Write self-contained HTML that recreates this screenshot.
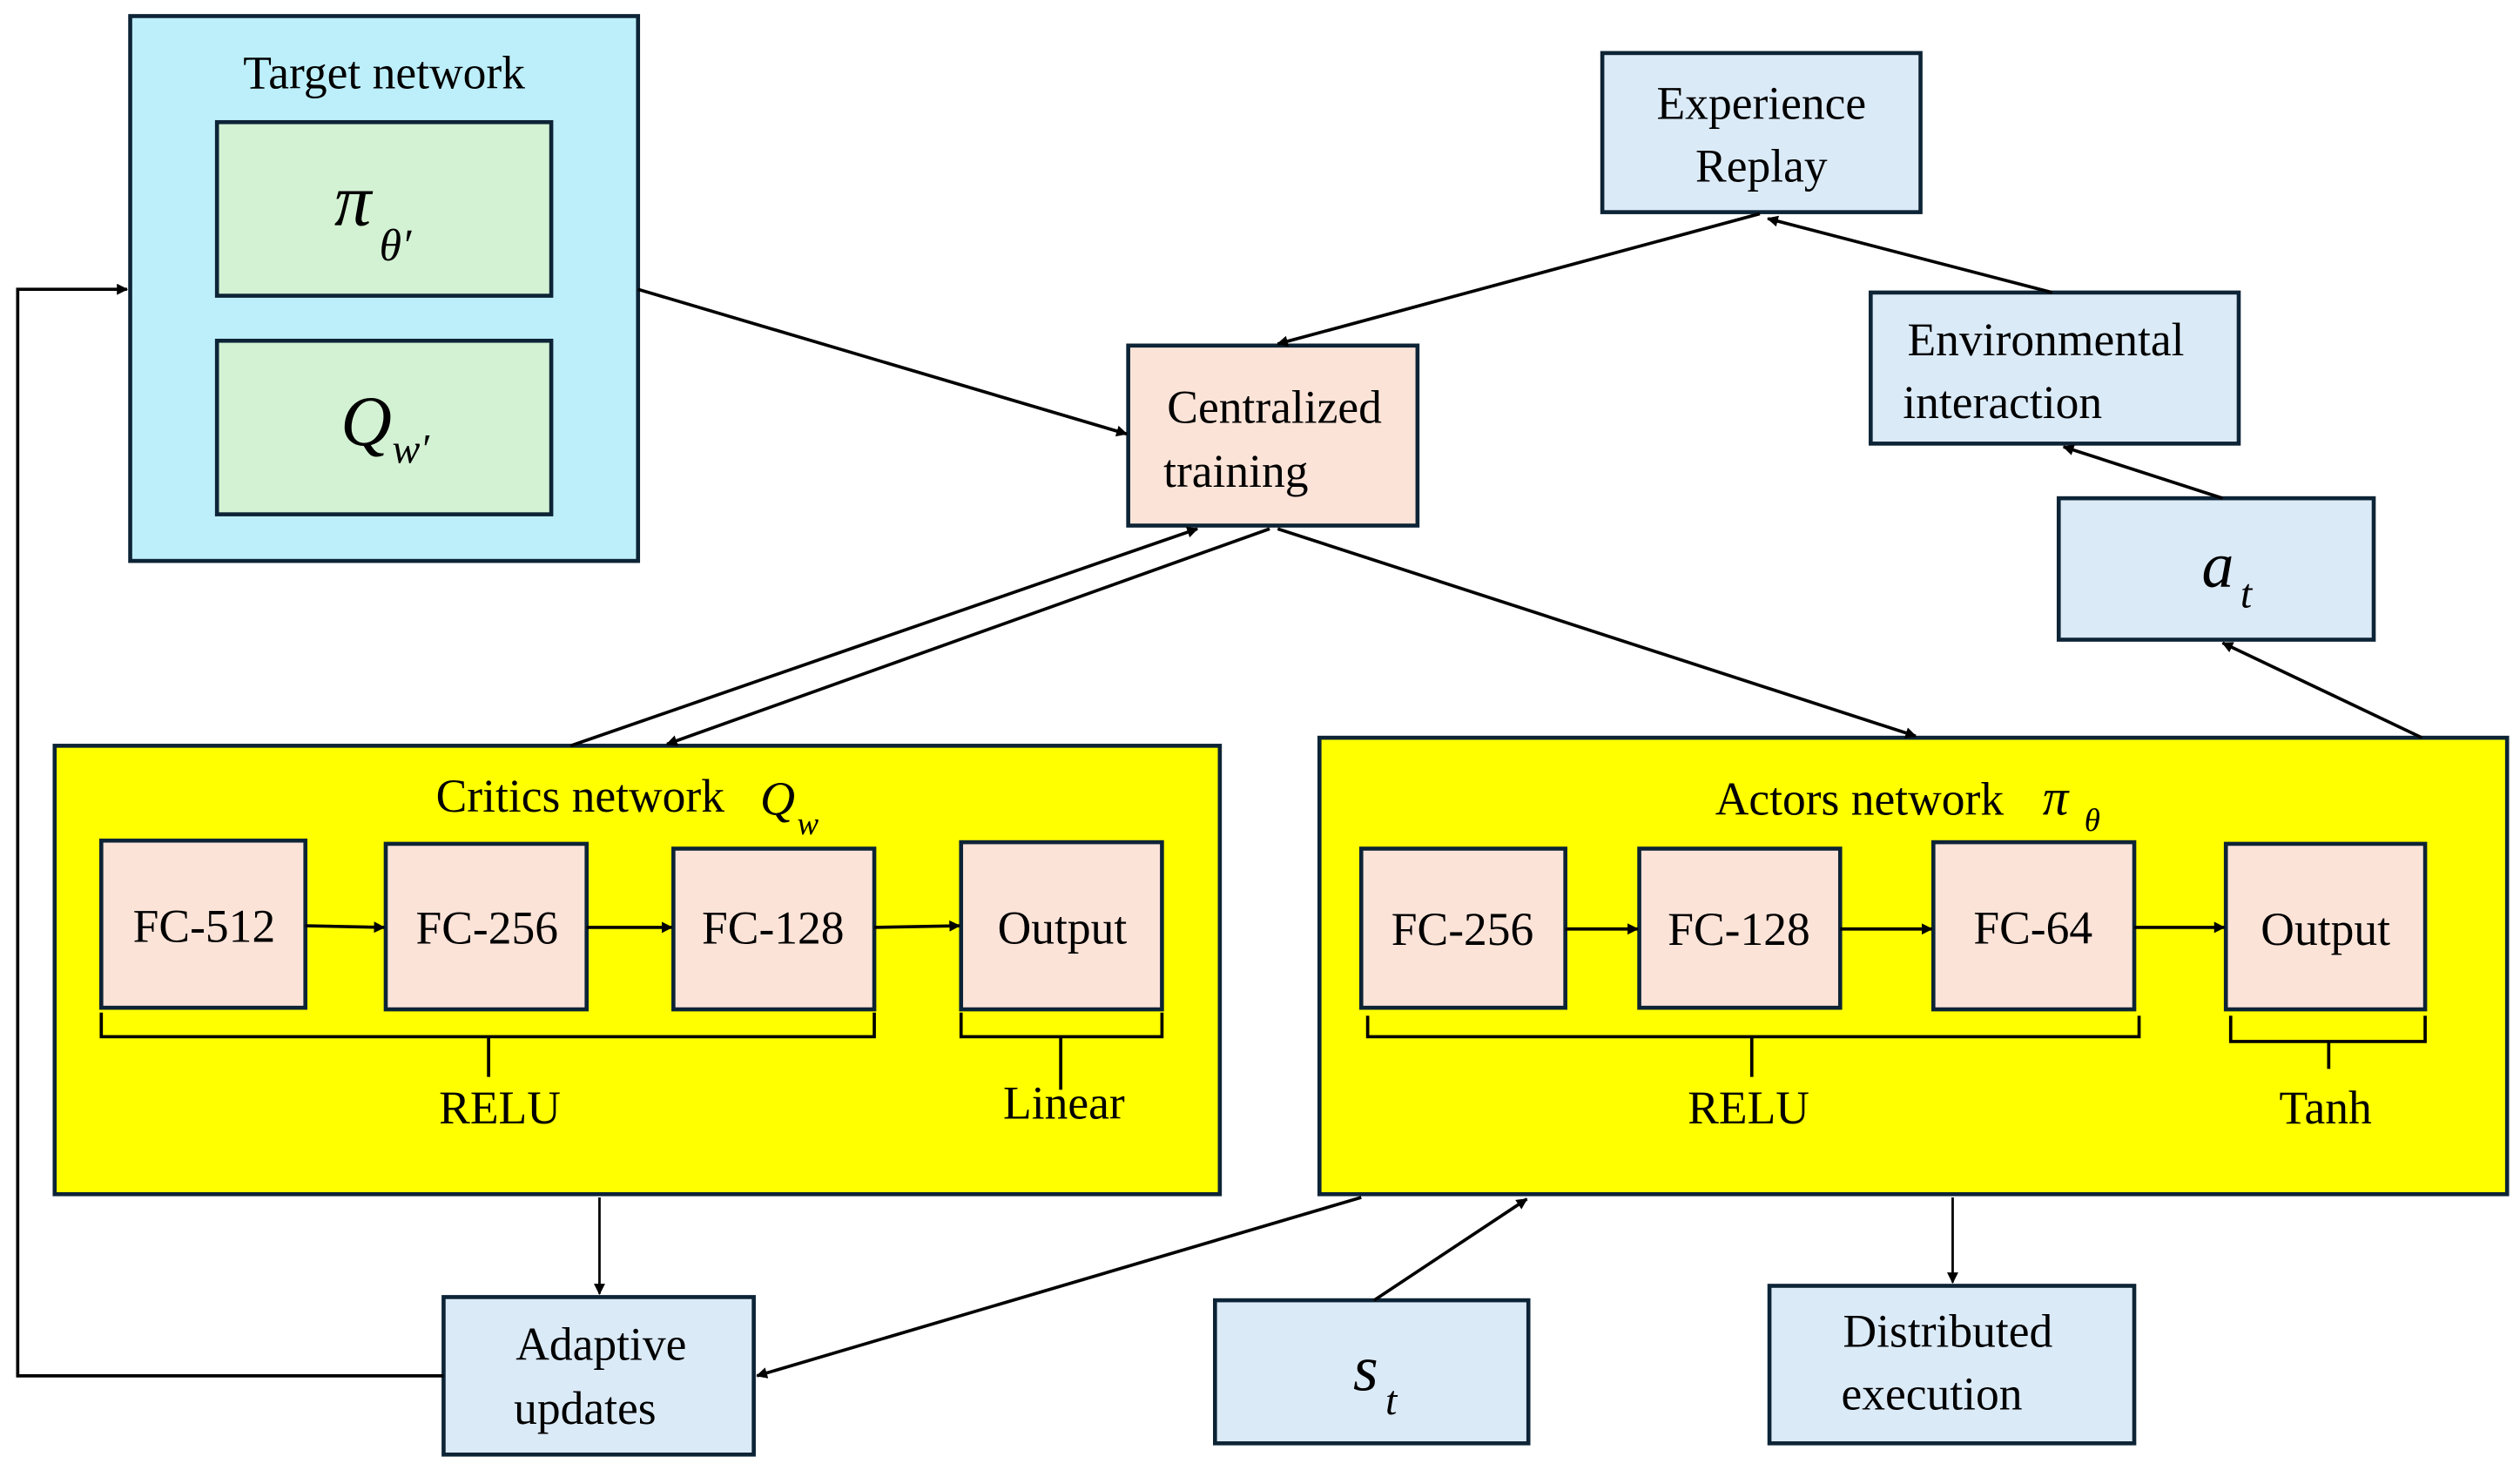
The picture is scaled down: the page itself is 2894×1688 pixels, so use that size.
<!DOCTYPE html>
<html><head><style>html,body{margin:0;padding:0;background:#fff}svg{display:block}</style></head>
<body>
<svg xmlns="http://www.w3.org/2000/svg" width="2894" height="1688" viewBox="0 0 1568 914.6" font-family="Liberation Serif, serif">
<defs>
<marker id="a" viewBox="0 0 10 10" refX="9" refY="5" markerWidth="7" markerHeight="7" markerUnits="userSpaceOnUse" orient="auto"><path d="M0,0 L10,5 L0,10 z" fill="#000"/></marker>
</defs>
<g stroke="#0d2436" stroke-width="2.5">
<rect x="81" y="10" width="316" height="339" fill="#bdeffa"/>
<rect x="135" y="76" width="208" height="108" fill="#d3f2d3"/>
<rect x="135" y="212" width="208" height="108" fill="#d3f2d3"/>
<rect x="997" y="33" width="198" height="99" fill="#dbeaf7"/>
<rect x="702" y="215" width="180" height="112" fill="#fce3d8"/>
<rect x="1164" y="182" width="229" height="94" fill="#dbeaf7"/>
<rect x="1281" y="310" width="196" height="88" fill="#dbeaf7"/>
<rect x="34" y="464" width="725" height="279" fill="#ffff00"/>
<rect x="821" y="459" width="739" height="284" fill="#ffff00"/>
<rect x="63" y="523" width="127" height="104" fill="#fce3d8"/>
<rect x="240" y="525" width="125" height="103" fill="#fce3d8"/>
<rect x="419" y="528" width="125" height="100" fill="#fce3d8"/>
<rect x="598" y="524" width="125" height="104" fill="#fce3d8"/>
<rect x="847" y="528" width="127" height="99" fill="#fce3d8"/>
<rect x="1020" y="528" width="125" height="99" fill="#fce3d8"/>
<rect x="1203" y="524" width="125" height="104" fill="#fce3d8"/>
<rect x="1385" y="525" width="124" height="103" fill="#fce3d8"/>
<rect x="276" y="807" width="193" height="98" fill="#dbeaf7"/>
<rect x="756" y="809" width="195" height="89" fill="#dbeaf7"/>
<rect x="1101" y="800" width="227" height="98" fill="#dbeaf7"/>
</g>
<g stroke="#000" stroke-width="2" fill="none">
<path d="M276,856 H11 V180 H79" marker-end="url(#a)"/>
<path d="M397,180 L701,270" marker-end="url(#a)"/>
<path d="M1095,133 L795,214" marker-end="url(#a)"/>
<path d="M1277,182 L1100,136" marker-end="url(#a)"/>
<path d="M1383,310 L1284,278" marker-end="url(#a)"/>
<path d="M1507,459 L1383,400" marker-end="url(#a)"/>
<path d="M355,464 L745,329" marker-end="url(#a)"/>
<path d="M790,329 L415,463" marker-end="url(#a)"/>
<path d="M795,329 L1192,458" marker-end="url(#a)"/>
<path d="M373,745 V805" stroke-width="1.5" marker-end="url(#a)"/>
<path d="M847,745 L471,856" marker-end="url(#a)"/>
<path d="M855,809 L950,746" marker-end="url(#a)"/>
<path d="M1215,745 V798" stroke-width="1.5" marker-end="url(#a)"/>
<path d="M190,576 L239,577" marker-end="url(#a)"/>
<path d="M365,577 L418,577" marker-end="url(#a)"/>
<path d="M544,577 L597,576" marker-end="url(#a)"/>
<path d="M974,578 L1019,578" marker-end="url(#a)"/>
<path d="M1145,578 L1202,578" marker-end="url(#a)"/>
<path d="M1328,577 L1384,577" marker-end="url(#a)"/>
<path d="M63,630 V645 H544 V630 M304,645 V670"/>
<path d="M598,630 V645 H723 V630 M660,645 V678"/>
<path d="M851,632 V645 H1331 V632 M1090,645 V670"/>
<path d="M1388,632 V648 H1509 V632 M1449,648 V665"/>
</g>
<g font-size="29" fill="#000" text-anchor="middle">
<text x="239" y="55">Target network</text>
<text x="1096" y="74">Experience</text>
<text x="1096" y="113">Replay</text>
<text x="793" y="263">Centralized</text>
<text x="769" y="303">training</text>
<text x="1273" y="221">Environmental</text>
<text x="1246" y="260">interaction</text>
<text x="361" y="505">Critics network</text>
<text x="1157" y="507">Actors network</text>
<text x="127" y="586">FC-512</text>
<text x="303" y="587">FC-256</text>
<text x="481" y="587">FC-128</text>
<text x="661" y="587">Output</text>
<text x="910" y="588">FC-256</text>
<text x="1082" y="588">FC-128</text>
<text x="1265" y="587">FC-64</text>
<text x="1447" y="588">Output</text>
<text x="311" y="699">RELU</text>
<text x="662" y="696">Linear</text>
<text x="1088" y="699">RELU</text>
<text x="1447" y="699">Tanh</text>
<text x="374" y="846">Adaptive</text>
<text x="364" y="886">updates</text>
<text x="1212" y="838">Distributed</text>
<text x="1202" y="877">execution</text>
</g>
<g font-style="italic" fill="#000">
<text x="208" y="140" font-size="46">π</text><text x="236" y="162" font-size="28">θ′</text>
<text x="212" y="277" font-size="44">Q</text><text x="244" y="288" font-size="26">w′</text>
<text x="1370" y="365" font-size="40">a</text><text x="1394" y="378" font-size="26">t</text>
<text x="842" y="865" font-size="40">s</text><text x="862" y="880" font-size="26">t</text>
<text x="473" y="507" font-size="30">Q</text><text x="496" y="519" font-size="20">w</text>
<text x="1271" y="507" font-size="32">π</text><text x="1297" y="517" font-size="20">θ</text>
</g>
</svg>
</body></html>
